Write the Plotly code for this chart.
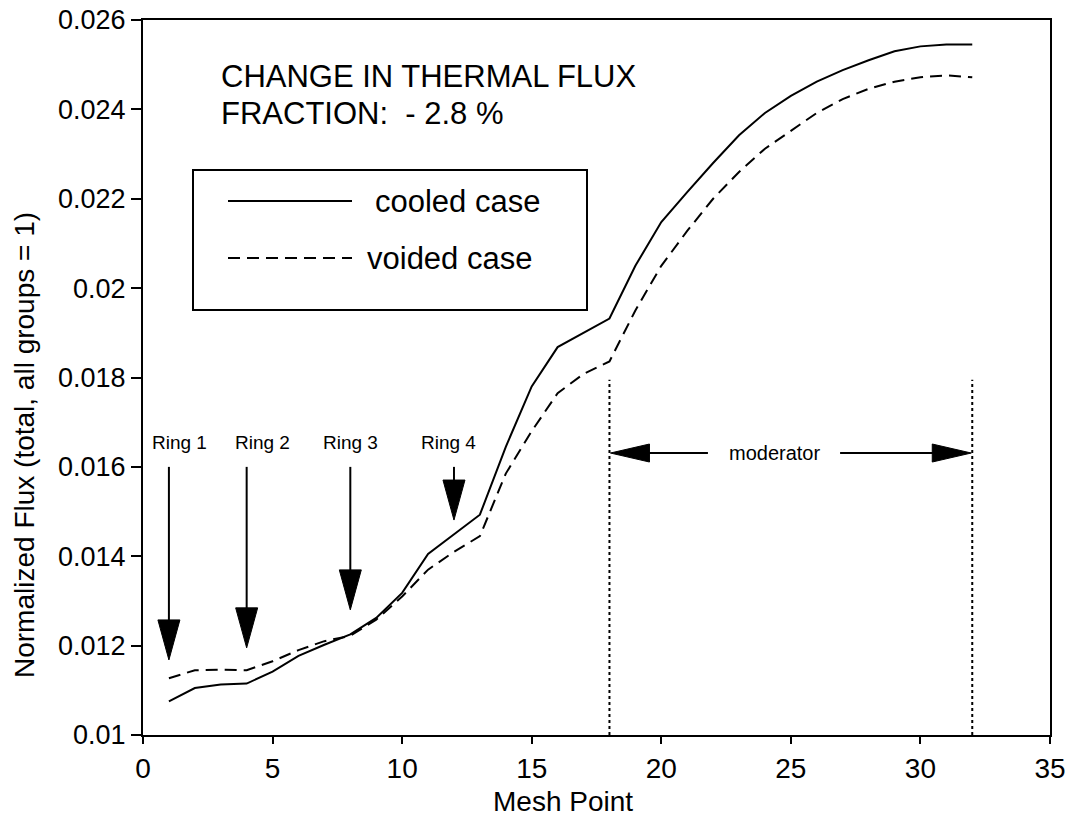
import plotly.graph_objects as go

# ---------------- data ----------------
mesh = list(range(1, 33))
cooled = [0.01075, 0.01105, 0.01113, 0.01115, 0.01142, 0.01177, 0.01202, 0.01225,
          0.01262, 0.01318, 0.01405, 0.01450, 0.01493, 0.01645, 0.01780, 0.01868,
          0.01900, 0.01932, 0.02050, 0.02148, 0.02215, 0.02280, 0.02342, 0.02392,
          0.02430, 0.02462, 0.02488, 0.02510, 0.02530, 0.02541, 0.02545, 0.02545]
voided = [0.01127, 0.01145, 0.01146, 0.01145, 0.01165, 0.01190, 0.01210, 0.01222,
          0.01258, 0.01310, 0.01370, 0.01410, 0.01445, 0.01585, 0.01680, 0.01765,
          0.01808, 0.01836, 0.01950, 0.02050, 0.02128, 0.02200, 0.02260, 0.02312,
          0.02352, 0.02392, 0.02423, 0.02446, 0.02462, 0.02472, 0.02476, 0.02472]

x_ticks = [0, 5, 10, 15, 20, 25, 30, 35]
y_ticks = [0.010, 0.012, 0.014, 0.016, 0.018, 0.020, 0.022, 0.024, 0.026]
y_ticktext = ["0.01", "0.012", "0.014", "0.016", "0.018", "0.02", "0.022", "0.024", "0.026"]

ring_labels = ["Ring 1", "Ring 2", "Ring 3", "Ring 4"]
ring_mesh = [1, 4, 8, 12]
ring_tip = [0.01168, 0.01195, 0.01280, 0.01481]
ring_top = 0.0160
ring_label_y = 0.01655
ring_label_dx = [0.4, 0.6, 0.0, -0.2]

moderator_start = 18
moderator_end = 32
moderator_y = 0.01631
moderator_line_top = 0.01795

FONT = "Liberation Sans, Arial, Helvetica, sans-serif"

# page body has an 8px margin: figure occupies screen (8..1073, 8..820)
OFF = 8
FIG_W, FIG_H = 1073 - OFF, 820 - OFF

fig = go.Figure()
fig.add_trace(go.Scatter(x=mesh, y=cooled, mode="lines", name="cooled case",
                         line=dict(color="black", width=2)))
fig.add_trace(go.Scatter(x=mesh, y=voided, mode="lines", name="voided case",
                         line=dict(color="black", width=2, dash="12px,7px")))

shapes = []
annotations = []

# ring arrows
for lab, xm, tip, dx in zip(ring_labels, ring_mesh, ring_tip, ring_label_dx):
    shapes.append(dict(type="line", xref="x", yref="y", x0=xm, x1=xm, y0=ring_top, y1=tip + 0.0004,
                       line=dict(color="black", width=2)))
    shapes.append(dict(type="path", xref="x", yref="y", xsizemode="pixel", ysizemode="pixel",
                       xanchor=xm, yanchor=tip, path="M-11,40 L11,40 L0,0 Z",
                       fillcolor="black", line=dict(color="black", width=1)))
    annotations.append(dict(x=xm + dx, y=ring_label_y, xref="x", yref="y", text=lab,
                            showarrow=False, font=dict(family=FONT, size=19, color="black")))

# moderator region
for xm in (moderator_start, moderator_end):
    shapes.append(dict(type="line", xref="x", yref="y", x0=xm, x1=xm, y0=0.010, y1=moderator_line_top,
                       line=dict(color="black", width=2, dash="3px,3px")))
shapes.append(dict(type="line", xref="x", yref="y", x0=moderator_start + 1, x1=21.8,
                   y0=moderator_y, y1=moderator_y, line=dict(color="black", width=2)))
shapes.append(dict(type="line", xref="x", yref="y", x0=26.9, x1=moderator_end - 1,
                   y0=moderator_y, y1=moderator_y, line=dict(color="black", width=2)))
shapes.append(dict(type="path", xref="x", yref="y", xsizemode="pixel", ysizemode="pixel",
                   xanchor=moderator_start, yanchor=moderator_y, path="M1,0 L40,9 L40,-9 Z",
                   fillcolor="black", line=dict(color="black", width=1)))
shapes.append(dict(type="path", xref="x", yref="y", xsizemode="pixel", ysizemode="pixel",
                   xanchor=moderator_end, yanchor=moderator_y, path="M-1,0 L-40,9 L-40,-9 Z",
                   fillcolor="black", line=dict(color="black", width=1)))
annotations.append(dict(x=24.35, y=moderator_y, xref="x", yref="y", text="moderator",
                        showarrow=False, font=dict(family=FONT, size=20, color="black")))

# screen-pixel -> paper conversion (plot area on screen: x 143..1050, y 20..735)
L, T, W, H = 143, 20, 907, 715
def px(xp):
    return (xp - L) / W
def py(yp):
    return (T + H - yp) / H

# legend box
shapes.append(dict(type="rect", xref="paper", yref="paper", x0=px(193), x1=px(587),
                   y0=py(310), y1=py(170), line=dict(color="black", width=2), fillcolor="rgba(0,0,0,0)"))
shapes.append(dict(type="line", xref="paper", yref="paper", x0=px(228), x1=px(352),
                   y0=py(201), y1=py(201), line=dict(color="black", width=2)))
shapes.append(dict(type="line", xref="paper", yref="paper", x0=px(228), x1=px(352),
                   y0=py(258), y1=py(258), line=dict(color="black", width=2, dash="12px,7px")))
annotations.append(dict(x=px(373), y=py(201), xref="paper", yref="paper", text="cooled case",
                        xanchor="left", yanchor="middle", showarrow=False,
                        font=dict(family=FONT, size=31, color="black")))
annotations.append(dict(x=px(365), y=py(258), xref="paper", yref="paper", text="voided case",
                        xanchor="left", yanchor="middle", showarrow=False,
                        font=dict(family=FONT, size=31, color="black")))

# header text
annotations.append(dict(x=px(219), y=py(76), xref="paper", yref="paper",
                        text="CHANGE IN THERMAL FLUX", xanchor="left", yanchor="middle",
                        showarrow=False, font=dict(family=FONT, size=31, color="black")))
annotations.append(dict(x=px(219), y=py(113), xref="paper", yref="paper",
                        text="FRACTION:  - 2.8 %", xanchor="left", yanchor="middle",
                        showarrow=False, font=dict(family=FONT, size=31, color="black")))

# axis titles
annotations.append(dict(x=px(563), y=py(801), xref="paper", yref="paper", text="Mesh Point",
                        showarrow=False, xanchor="center", yanchor="middle",
                        font=dict(family=FONT, size=28, color="black")))
annotations.append(dict(x=px(24), y=py(445), xref="paper", yref="paper",
                        text="Normalized Flux (total, all groups = 1)", textangle=-90,
                        showarrow=False, xanchor="center", yanchor="middle",
                        font=dict(family=FONT, size=28, color="black")))

fig.update_layout(
    width=FIG_W, height=FIG_H,
    margin=dict(l=L - OFF, r=FIG_W - (L - OFF) - W, t=T - OFF, b=FIG_H - (T - OFF) - H,
                autoexpand=False),
    paper_bgcolor="white", plot_bgcolor="white",
    showlegend=False,
    shapes=shapes, annotations=annotations,
    font=dict(family=FONT, color="black"),
)
fig.update_xaxes(range=[0, 35], tickvals=x_ticks, showgrid=False, zeroline=False,
                 showline=True, linecolor="black", linewidth=2, mirror=True,
                 ticks="outside", ticklen=7, tickwidth=2, tickcolor="black",
                 ticklabeloverflow="allow", automargin=False,
                 tickfont=dict(family=FONT, size=28, color="black"))
fig.update_yaxes(range=[0.010, 0.026], tickvals=y_ticks, ticktext=y_ticktext, showgrid=False,
                 zeroline=False, showline=True, linecolor="black", linewidth=2, mirror=True,
                 ticks="outside", ticklen=10, tickwidth=2, tickcolor="black",
                 ticklabeloverflow="allow", automargin=False,
                 tickfont=dict(family=FONT, size=27, color="black"))

fig.write_html("out.html")
